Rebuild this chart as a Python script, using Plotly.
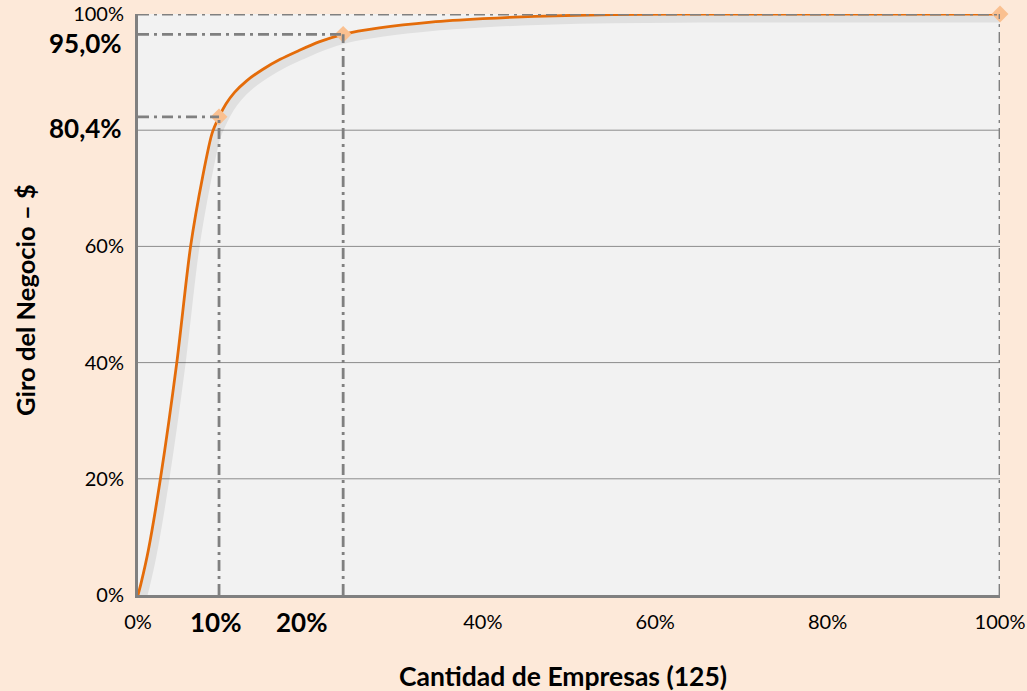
import plotly.graph_objects as go

# ---- data ----
curve_x = [0, 0.35, 1.2, 2.6, 4.5, 6.1, 7.5, 8.6, 9.4, 10.2, 11.2, 12.6, 14.5, 16.5, 18.5,
           21, 23.8, 28, 34, 40, 46, 55, 65, 100]
curve_y = [0, 2, 7.7, 20, 40, 60, 72, 79.5, 82.3, 84.5, 86.5, 88.5, 90.5, 92.2, 93.6,
           95.2, 96.5, 97.6, 98.6, 99.2, 99.6, 99.9, 100, 100]

marker_x = [9.4, 23.8, 100]
marker_y = [82.3, 96.5, 100]

x_tick_vals = [0, 40, 60, 80, 100]
x_tick_text = ["0%", "40%", "60%", "80%", "100%"]
y_tick_vals = [0, 20, 40, 60, 100]
y_tick_text = ["0%", "20%", "40%", "60%", "100%"]
grid_vals = [20, 40, 60, 80]

bold_x_vals = [10, 20]
bold_x_text = ["10%", "20%"]
bold_y_vals = [80.4, 95.0]
bold_y_text = ["80,4%", "95,0%"]

x_title = "Cantidad de Empresas (125)"
y_title = "Giro del Negocio – $"

FONT = "Lato"
ORANGE = "#E46C0A"
PEACH = "#FAC090"
GRAY = "#808080"
DASH = "11px,5px,3px,5px"

fig = go.Figure()

# soft shadow of the curve
fig.add_trace(go.Scatter(
    x=[v + 0.45 for v in curve_x], y=[v - 0.7 for v in curve_y],
    mode="lines", line=dict(color="rgba(0,0,0,0.07)", width=9, shape="spline", smoothing=0.8),
    hoverinfo="skip", showlegend=False))

fig.add_trace(go.Scatter(
    x=curve_x, y=curve_y, mode="lines",
    line=dict(color=ORANGE, width=2.8, shape="spline", smoothing=0.8),
    showlegend=False, cliponaxis=False))

# grid lines
for g in grid_vals:
    fig.add_shape(type="line", xref="x", yref="y", x0=0, x1=100, y0=g, y1=g,
                  line=dict(color="#8C8C8C", width=1), layer="below")

# reference dash-dot lines
for mx, my in zip(marker_x, marker_y):
    fig.add_shape(type="line", xref="x", yref="y", x0=0, x1=mx, y0=my, y1=my,
                  line=dict(color=GRAY, width=2.8, dash=DASH))
    fig.add_shape(type="line", xref="x", yref="y", x0=mx, x1=mx, y0=0, y1=my,
                  line=dict(color=GRAY, width=2.8, dash=DASH))

fig.add_trace(go.Scatter(
    x=marker_x, y=marker_y, mode="markers",
    marker=dict(symbol="diamond", size=13, color=PEACH, line=dict(width=0)),
    showlegend=False, cliponaxis=False))

annotations = []
for v, t in zip(bold_x_vals, bold_x_text):
    annotations.append(dict(x=v, y=0, xref="x", yref="y", text="<b>" + t + "</b>",
                            showarrow=False, xanchor="center", yanchor="middle",
                            xshift=-9, yshift=-27,
                            font=dict(family=FONT, size=26, color="black")))
for v, t in zip(bold_y_vals, bold_y_text):
    annotations.append(dict(x=0, y=v, xref="x", yref="y", text="<b>" + t + "</b>",
                            showarrow=False, xanchor="right", yanchor="middle",
                            xshift=-14,
                            font=dict(family=FONT, size=26, color="black")))
annotations.append(dict(x=0.4925, y=-0.1394, xref="paper", yref="paper",
                        text="<b>" + x_title + "</b>", showarrow=False,
                        xanchor="center", yanchor="middle",
                        font=dict(family=FONT, size=26.5, color="black")))
annotations.append(dict(x=-0.1311, y=0.5077, xref="paper", yref="paper",
                        text="<b>" + y_title + "</b>", showarrow=False, textangle=-90,
                        xanchor="center", yanchor="middle",
                        font=dict(family=FONT, size=25.5, color="black")))

fig.update_layout(
    width=1027, height=691,
    margin=dict(l=138, r=27, t=14, b=96, autoexpand=False),
    paper_bgcolor="#FDE9D9", plot_bgcolor="#F2F2F2",
    font=dict(family=FONT, size=20, color="black"),
    annotations=annotations,
    xaxis=dict(range=[0, 100], tickvals=x_tick_vals, ticktext=x_tick_text,
               showgrid=False, zeroline=False, showline=True, linecolor=GRAY, linewidth=3,
               ticks="", ticklabelstandoff=7, automargin=False, fixedrange=True),
    yaxis=dict(range=[0, 100], tickvals=y_tick_vals, ticktext=y_tick_text,
               showgrid=False, zeroline=False, showline=True, linecolor=GRAY, linewidth=3,
               ticks="", ticklabelstandoff=7, automargin=False, fixedrange=True),
)

fig.write_html("out.html", config={"displayModeBar": False},
               post_script="document.body.style.margin='0px';document.body.style.overflow='hidden';")
